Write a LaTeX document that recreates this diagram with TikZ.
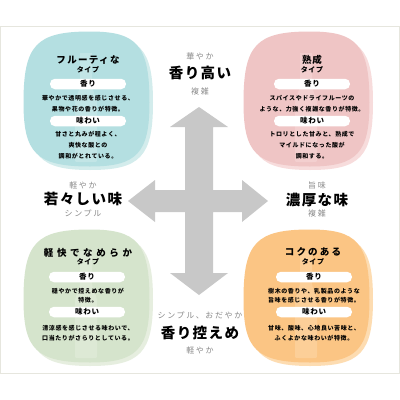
\documentclass[tikz,border=0pt]{standalone}
\usepackage{fontspec}
\newfontfamily\jp{Noto Sans CJK JP}
\newfontfamily\jpbig{Noto Sans CJK JP}[LetterSpace=10]
\newfontfamily\jpgray{Noto Sans CJK JP}[LetterSpace=20]
\newfontfamily\jpsm{Noto Sans CJK JP}[LetterSpace=10]
\definecolor{tealF}{HTML}{B4DFE1}\definecolor{tealR}{HTML}{D3ECEC}
\definecolor{pinkF}{HTML}{EFC5C5}\definecolor{pinkR}{HTML}{F7DCDC}
\definecolor{greenF}{HTML}{D5E4CC}\definecolor{greenR}{HTML}{E6EEDF}
\definecolor{orangeF}{HTML}{FBC584}\definecolor{orangeR}{HTML}{FDDCB1}
\definecolor{arrowgray}{HTML}{C8C8C8}
\definecolor{labgray}{HTML}{8A8A8A}
\definecolor{bordercol}{HTML}{E6E6DE}
\newcommand{\mysq}[5]{%
  \fill[#5] (#1,{#2-#4}) .. controls ({#1+0.8*#3},{#2-#4}) and ({#1+#3},{#2-0.8*#4}) .. ({#1+#3},#2)
   .. controls ({#1+#3},{#2+0.8*#4}) and ({#1+0.8*#3},{#2+#4}) .. (#1,{#2+#4})
   .. controls ({#1-0.8*#3},{#2+#4}) and ({#1-#3},{#2+0.8*#4}) .. ({#1-#3},#2)
   .. controls ({#1-#3},{#2-0.8*#4}) and ({#1-0.8*#3},{#2-#4}) .. (#1,{#2-#4}) -- cycle;}
\newcommand{\mybottle}[4]{% x, top, bottom, color
  \fill[#4] ({#1-6},#2) -- ({#1+6},#2) -- ({#1+6},{#2+30})
   .. controls ({#1+6},{#2+40}) and ({#1+11},{#2+42}) .. ({#1+11},{#2+52})
   -- ({#1+11},{#3-4}) .. controls ({#1+11},#3) .. ({#1+7},#3) -- ({#1-7},#3)
   .. controls ({#1-11},#3) .. ({#1-11},{#3-4}) -- ({#1-11},{#2+52})
   .. controls ({#1-11},{#2+42}) and ({#1-6},{#2+40}) .. ({#1-6},{#2+30}) -- cycle;}
\newcommand{\myblob}[6]{% cx, cy, a, b, fill, ring
  \mysq{#1}{#2}{#3}{#4}{#6}
  \mysq{#1}{#2}{#3-3.5}{#4-3.5}{#5}
  \mybottle{#1-4}{#2-#4+18}{#2+#4-8}{#6!45!#5}}
\tikzset{
  biglab/.style={font=\jpbig\bfseries\fontsize{14.5}{16}\selectfont, text=black, inner sep=0pt},
  graylab/.style={font=\jpgray\fontsize{8}{9}\selectfont, text=labgray, inner sep=0pt},
  ttl/.style={font=\jp\bfseries\fontsize{9.5}{11}\selectfont, inner sep=0pt},
  typ/.style={font=\jpsm\bfseries\fontsize{7}{8}\selectfont, inner sep=0pt},
  pill/.style={fill=white, rounded corners=5pt, minimum width=76pt, minimum height=10.5pt, inner sep=0pt, font=\jpsm\bfseries\fontsize{7.5}{8}\selectfont},
  bodyT/.style={font=\jpsm\bfseries\fontsize{6}{10.7}\selectfont, align=center, inner sep=0pt},
  bodyB/.style={font=\jpsm\bfseries\fontsize{6}{9.5}\selectfont, align=center, inner sep=0pt}
}
\begin{document}
\begin{tikzpicture}[x=1pt,y=-1pt]
\useasboundingbox (0,0) rectangle (400,400);
\fill[white] (0,0) rectangle (400,400);
\draw[bordercol, line width=0.8pt] (0.5,26) rectangle (399.5,373);
% blobs
\myblob{90}{102.5}{63}{67.5}{tealF}{tealR}
\myblob{310}{102.5}{63}{67.5}{pinkF}{pinkR}
\myblob{90}{299.5}{63}{66.5}{greenF}{greenR}
\myblob{310}{299.5}{63}{66.5}{orangeF}{orangeR}
% cross arrow
\fill[arrowgray] (199,107) -- (228,127) -- (213,127) -- (213,190) -- (242,190) -- (242,180) -- (268,201)
  -- (242,222) -- (242,212) -- (213,212) -- (213,273) -- (228,273) -- (199,295) -- (170,273)
  -- (185,273) -- (185,212) -- (155,212) -- (155,222) -- (128,201) -- (155,180) -- (155,190)
  -- (185,190) -- (185,127) -- (170,127) -- cycle;
% axis labels
\node[graylab] (tu) at (200,56) {華やか};
\node[biglab] (t) at (200,73) {香り高い};
\node[graylab] (td) at (200,91) {複雑};
\node[graylab] (lu) at (83,185) {軽やか};
\node[biglab] (l) at (83,199) {若々しい味};
\node[graylab] (ld) at (83,213) {シンプル};
\node[graylab] (ru) at (317,185) {旨味};
\node[biglab] (r) at (317,200) {濃厚な味};
\node[graylab] (rd) at (317,213) {複雑};
\node[graylab] (bu) at (200,315) {シンプル、おだやか};
\node[biglab] (b) at (200,333) {香り控えめ};
\node[graylab] (bd) at (200,350) {軽やか};
% top-left
\node[ttl, font=\jp\bfseries\fontsize{9.5}{11}\selectfont\addfontfeature{LetterSpace=14}] (a1) at (88,60) {フルーティな};
\node[typ] (a2) at (88,70) {タイプ};
\node[pill] (a3) at (88,84) {香り};
\node[bodyT] (a4) at (88,103.5) {華やかで透明感を感じさせる、\\果物や花の香りが特徴。};
\node[pill] (a5) at (88,121) {味わい};
\node[bodyT] (a6) at (88,145) {甘さと丸みが程よく、\\爽快な酸との\\調和がとれている。};
% top-right
\node[ttl, font=\jp\bfseries\fontsize{9.5}{11}\selectfont\addfontfeature{LetterSpace=10}] (b1) at (312,60) {熟成};
\node[typ] (b2) at (312,70) {タイプ};
\node[pill] (b3) at (312,84) {香り};
\node[bodyT] (b4) at (312,103.5) {スパイスやドライフルーツの\\ような、力強く複雑な香りが特徴。};
\node[pill] (b5) at (312,121) {味わい};
\node[bodyT] (b6) at (312,145) {トロリとした甘みと、熟成で\\マイルドになった酸が\\調和する。};
% bottom-left
\node[ttl, font=\jp\bfseries\fontsize{9.5}{11}\selectfont\addfontfeature{LetterSpace=38}] (c1) at (88,253) {軽快でなめらか};
\node[typ] (c2) at (88,262) {タイプ};
\node[pill] (c3) at (87,277) {香り};
\node[bodyB] (c4) at (88,295.5) {穏やかで控えめな香りが\\特徴。};
\node[pill] (c5) at (87,312) {味わい};
\node[bodyB] (c6) at (88,333) {清涼感を感じさせる味わいで、\\口当たりがさらりとしている。};
% bottom-right
\node[ttl, font=\jp\bfseries\fontsize{9.5}{11}\selectfont\addfontfeature{LetterSpace=23}] (d1) at (313,252) {コクのある};
\node[typ] (d2) at (313,262) {タイプ};
\node[pill] (d3) at (314,277) {香り};
\node[bodyB] (d4) at (314,295.5) {樹木の香りや、乳製品のような\\旨味を感じさせる香りが特徴。};
\node[pill] (d5) at (314,312) {味わい};
\node[bodyB] (d6) at (314,333) {甘味、酸味、心地良い苦味と、\\ふくよかな味わいが特徴。};
\end{tikzpicture}
\end{document}
